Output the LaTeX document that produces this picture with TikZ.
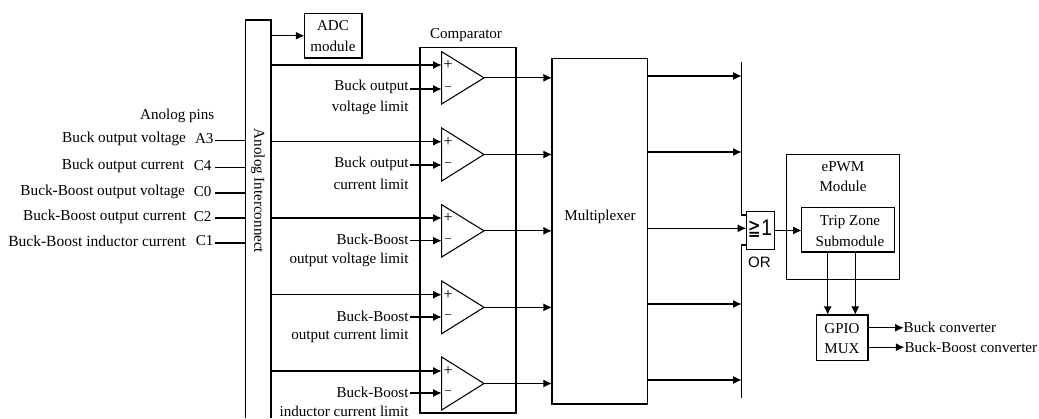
\documentclass[tikz,border=0pt]{standalone}
\usepackage{graphicx}
\usepackage{fontspec}
\setmainfont{Liberation Serif}
\newfontfamily\gatefont{DejaVu Sans}
\newfontfamily\orfont{Liberation Sans}
\usetikzlibrary{arrows.meta,calc}
\tikzset{
  base/.style={inner sep=0pt,outer sep=0pt,font=\fontsize{11.3}{15.2}\selectfont},
  boxnode/.style={base,draw,line width=0.85pt,align=center,rectangle},
  lbl/.style={base,align=center},
  lblr/.style={base,anchor=east,align=right},
  lbll/.style={base,anchor=west},
  wire/.style={line width=0.85pt},
  arr/.style={wire,-{Latex[length=6.5pt,width=6pt]}},
  amp/.style={line width=0.8pt,line join=miter}
}
\newcommand{\bx}[6][]{\node[boxnode,#1,minimum width={(#4-#2)*0.75pt},minimum height={(#5-#3)*0.75pt}] (#6) at ({(#2+#4)/2},{(#3+#5)/2}) {};}
\begin{document}
\begin{tikzpicture}[x=0.75pt,y=-0.75pt]
\useasboundingbox (0,0) rectangle (1039,418);
% interconnect
\node[base,minimum width=19.1pt,minimum height=298.5pt] (ic) at (258.2,219) {};
\draw[wire] (ic.south west) -- (ic.north west) -- (ic.north east) -- (ic.south east);
\node[base,rotate=-90] (ictext) at (258,191) {Anolog Interconnect};
% boxes
\bx{304.5}{13.5}{362}{58}{adc}
\node[lbl] (adct) at (333,36) {ADC\\module};
\bx{420}{47.5}{516}{413}{comp}
\node[lbl] (compt) at (466,35) {Comparator};
\bx{552}{58.7}{647.7}{404}{mux}
\node[lbl] (muxt) at (600,217) {Multiplexer};
\draw[arr] (ic.east |- adc) -- (adc.west);
% left pins
\node[lblr] (pins) at (214.3,116) {Anolog pins};
\foreach \n/\y/\ty/\fs/\e/\r/\t/\p in {1/140.5/139/11.45/186/213.5/Buck output voltage/A3,2/167.5/166/11.45/184/211.5/Buck output current/C4,3/193/192/11.45/185/211.5/Buck-Boost output voltage/C0,4/218/216.5/11.45/186/211.5/Buck-Boost output current/C2,5/243/241/11.65/186/213.5/Buck-Boost inductor current/C1}{
  \node[lblr,font=\fontsize{\fs}{15}\selectfont] (pt\n) at (\e,\ty) {\t};
  \node[lblr] (pn\n) at (\r,\ty) {\p};
  \coordinate (ps\n) at (215,\y);
  \draw[wire] (ps\n) -- (ic.west |- ps\n);
}
% comparators
\foreach \n/\t/\b/\p/\m/\lta/\ltb/\la/\lb in {
  1/51.7/104/65/89/87/108/Buck output/voltage limit,
  2/128/181/141.7/165/164/184/Buck output/current limit,
  3/204.7/257/218/240.7/239/260/Buck-Boost/output voltage limit,
  4/281/333.7/294.7/317/316/336/Buck-Boost/output current limit,
  5/357/410/371/393/392/411/Buck-Boost/inductor current limit}{
  \coordinate (a\n) at (441.7,\t);
  \coordinate (b\n) at (441.7,\b);
  \coordinate (tip\n) at (484,{(\t+\b)/2});
  \draw[amp] (a\n) -- (tip\n) -- (b\n) -- cycle;
  \coordinate (plus\n) at (441.7,\p);
  \coordinate (minus\n) at (441.7,\m);
  \coordinate (ms\n) at (410,\m);
  \node[base,font=\fontsize{12}{12}\selectfont] (ps\n) at (448.2,\p) {+};
  \node[base,font=\fontsize{10}{12}\selectfont] (ns\n) at (448.2,\m) {\textminus};
  \node[lblr] (la\n) at (408.5,\lta) {\la};
  \node[lblr] (lb\n) at (408.5,\ltb) {\lb};
  \draw[arr] (ic.east |- plus\n) -- (plus\n);
  \draw[arr] (ms\n) -- (minus\n);
  \draw[arr] (tip\n) -- (mux.west |- tip\n);
}
% bus and OR
\bx{746.3}{211.7}{774.7}{249.3}{gate}
\node[base,font=\fontsize{17}{20}\selectfont\gatefont] (gatet) at (760,229) {\scalebox{0.68}[1]{≧}\hspace{0.5pt}{\orfont\scalebox{0.85}[1]{1}}};
\node[base,font=\fontsize{11.3}{13}\selectfont\orfont] (ort) at (759.5,262) {OR};
\coordinate (bustop) at (741.7,61.7);
\coordinate (busbot) at (741.7,398);
\coordinate (g1) at (746.3,215);
\coordinate (g2) at (746.3,245);
\draw[wire] (bustop) -- (bustop |- g1) -- (g1);
\draw[wire] (busbot) -- (busbot |- g2) -- (g2);
\foreach \n/\y in {1/76,2/152,4/304,5/380}{
  \coordinate (mo\n) at (647.7,\y);
  \draw[arr] (mo\n) -- (bustop |- mo\n);
}
\coordinate (mo3) at (647.7,228.3);
\draw[arr] (mo3) -- (gate.west |- mo3);
% ePWM
\bx{786.7}{154.7}{899.3}{279.3}{epwm}
\node[lbl] (epwmt) at (843,176.7) {ePWM\\Module};
\bx{801.7}{207.7}{894.7}{252}{trip}
\node[lbl] (tript) at (850,231) {Trip Zone\\Submodule};
\draw[arr] (gate.east) -- (trip.west |- gate.east);
% GPIO
\bx{816.7}{315}{868}{360.7}{gpio}
\node[lbl] (gpiot) at (842,338.5) {GPIO\\MUX};
\coordinate (d1) at (827.7,252);
\coordinate (d2) at (855.3,252);
\draw[arr] (d1) -- (d1 |- gpio.north);
\draw[arr] (d2) -- (d2 |- gpio.north);
\node[lbll] (bc) at (903.7,327.5) {Buck converter};
\node[lbll] (bbc) at (904.5,347.5) {Buck-Boost converter};
\coordinate (g3) at (868,327.7);
\coordinate (g4) at (868,347.2);
\draw[arr] (g3) -- (bc.west |- g3);
\draw[arr] (g4) -- (bbc.west |- g4);
\end{tikzpicture}
\end{document}
